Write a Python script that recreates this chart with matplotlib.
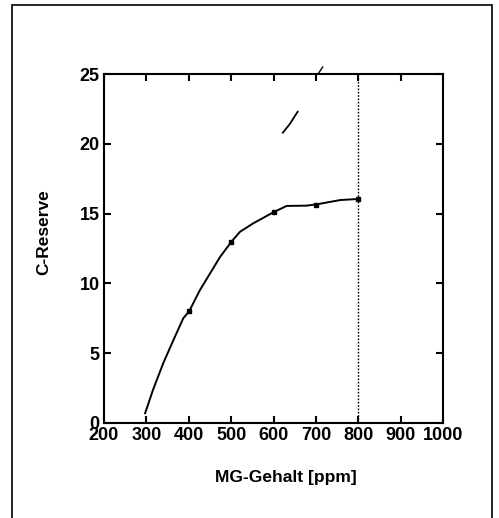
import matplotlib
matplotlib.use("Agg")
import matplotlib.pyplot as plt
from matplotlib.patches import Rectangle

# Main curve
curve_x = [297, 316, 340, 364, 387, 401, 426, 450, 474, 501, 521, 552, 600, 631, 678, 703, 757, 800]
curve_y = [0.7, 2.4, 4.3, 5.95, 7.5, 8.0, 9.5, 10.7, 11.9, 13.0, 13.7, 14.3, 15.1, 15.55, 15.57, 15.67, 15.97, 16.05]
# Markers
mark_x = [400, 500, 600, 700, 800]
mark_y = [8.0, 13.0, 15.1, 15.65, 16.05]
# Small stray segments
seg1_x = [622, 638, 657]
seg1_y = [20.8, 21.4, 22.3]
seg2_x = [705, 716]
seg2_y = [25.0, 25.5]
# Vertical dotted line
vline_x = 800

xticks = [200, 300, 400, 500, 600, 700, 800, 900, 1000]
yticks = [0, 5, 10, 15, 20, 25]

plt.rcParams['font.family'] = ['Liberation Sans', 'DejaVu Sans']
plt.rcParams['font.weight'] = 'bold'

fig = plt.figure(figsize=(4.99, 5.18), dpi=100)
ax = fig.add_axes([0.2084, 0.1834, 0.6794, 0.6737])

ax.plot(curve_x, curve_y, color='black', lw=1.4)
ax.plot(mark_x, mark_y, linestyle='none', marker='s', ms=3.5, color='black')
ax.plot(seg1_x, seg1_y, color='black', lw=1.3)
ax.plot(seg2_x, seg2_y, color='black', lw=1.0, clip_on=False)
ax.plot([vline_x, vline_x], [0, 25], color='black', lw=1.0, linestyle=(0, (1.2, 1.2)))

ax.set_xlim(200, 1000)
ax.set_ylim(0, 25)
ax.set_xticks(xticks)
ax.set_yticks(yticks)
ax.tick_params(direction='in', length=5, width=1.5, top=True, right=True,
               labelsize=13, pad=3)
for lbl in ax.get_xticklabels() + ax.get_yticklabels():
    lbl.set_fontweight('bold')
for s in ax.spines.values():
    s.set_linewidth(1.5)

ax.set_xlabel('MG-Gehalt [ppm]', fontsize=12.5, fontweight='bold')
ax.set_ylabel('C-Reserve', fontsize=12.5, fontweight='bold')
ax.xaxis.set_label_coords(0.537, -0.135)
ax.yaxis.set_label_coords(-0.155, 0.547)

# Outer frame
fig.patches.append(Rectangle((11.5 / 499, -0.01), (491.5 - 11.5) / 499, 1 - 5 / 518 + 0.01,
                             transform=fig.transFigure, fill=False, lw=1.2,
                             edgecolor='black'))

fig.savefig('out.png', dpi=100)
